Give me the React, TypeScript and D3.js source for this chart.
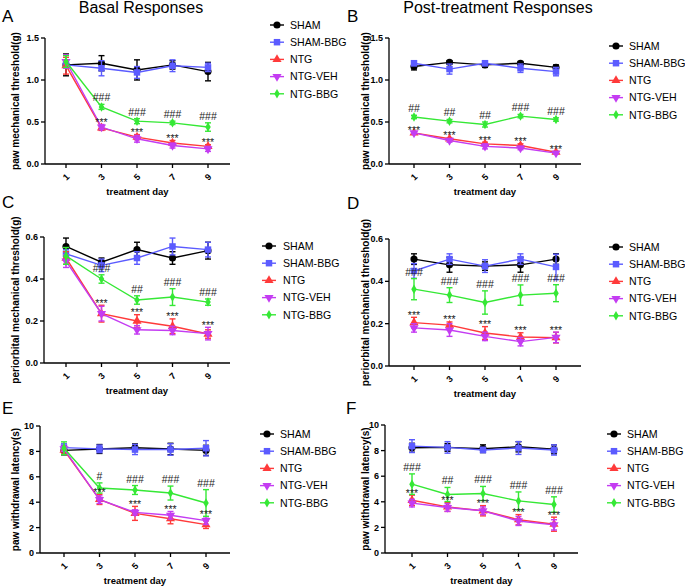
import React from 'react';
import * as d3 from 'd3';

const days = [1, 3, 5, 7, 9];
const groups = ['SHAM', 'SHAM-BBG', 'NTG', 'NTG-VEH', 'NTG-BBG'];
const colors = ['#000000', '#5b5bff', '#ff3a3a', '#c43cf2', '#35e835'];

// Panel A – Basal, paw mechanical threshold (g)
const aMeans = [
  [1.18, 1.20, 1.12, 1.18, 1.10],
  [1.18, 1.14, 1.09, 1.17, 1.15],
  [1.17, 0.43, 0.32, 0.25, 0.21],
  [1.22, 0.44, 0.30, 0.22, 0.18],
  [1.22, 0.68, 0.51, 0.49, 0.44],
];
const aErrs = [
  [0.13, 0.09, 0.12, 0.05, 0.11],
  [0.03, 0.09, 0.07, 0.07, 0.05],
  [0.10, 0.03, 0.03, 0.03, 0.02],
  [0.08, 0.03, 0.04, 0.03, 0.03],
  [0.07, 0.03, 0.03, 0.02, 0.05],
];
// Panel B – Post-treatment, paw mechanical threshold (g)
const bMeans = [
  [1.16, 1.21, 1.18, 1.20, 1.15],
  [1.20, 1.13, 1.20, 1.14, 1.10],
  [0.37, 0.30, 0.24, 0.22, 0.14],
  [0.37, 0.28, 0.21, 0.19, 0.13],
  [0.56, 0.51, 0.47, 0.57, 0.53],
];
const bErrs = [
  [0.04, 0.02, 0.03, 0.02, 0.03],
  [0.03, 0.06, 0.03, 0.05, 0.05],
  [0.01, 0.01, 0.02, 0.02, 0.01],
  [0.01, 0.02, 0.03, 0.02, 0.01],
  [0.02, 0.02, 0.03, 0.02, 0.02],
];
// Panel C – Basal, periorbital mechanical threshold (g)
const cMeans = [
  [0.555, 0.48, 0.54, 0.50, 0.535],
  [0.52, 0.465, 0.50, 0.555, 0.54],
  [0.50, 0.235, 0.20, 0.175, 0.138],
  [0.485, 0.235, 0.158, 0.155, 0.14],
  [0.51, 0.40, 0.30, 0.314, 0.29],
];
const cErrs = [
  [0.04, 0.02, 0.035, 0.03, 0.04],
  [0.02, 0.03, 0.03, 0.04, 0.035],
  [0.03, 0.04, 0.03, 0.035, 0.02],
  [0.03, 0.035, 0.02, 0.02, 0.03],
  [0.04, 0.02, 0.02, 0.04, 0.015],
];
// Panel D – Post-treatment, periorbital mechanical threshold (g)
const dMeans = [
  [0.505, 0.478, 0.472, 0.478, 0.505],
  [0.449, 0.505, 0.472, 0.505, 0.468],
  [0.205, 0.193, 0.156, 0.137, 0.134],
  [0.18, 0.17, 0.14, 0.115, 0.135],
  [0.363, 0.335, 0.30, 0.335, 0.344],
];
const dErrs = [
  [0.025, 0.035, 0.02, 0.035, 0.025],
  [0.035, 0.025, 0.03, 0.025, 0.06],
  [0.025, 0.015, 0.03, 0.02, 0.025],
  [0.02, 0.03, 0.02, 0.02, 0.025],
  [0.05, 0.035, 0.055, 0.048, 0.04],
];
// Panel E – Basal, paw withdrawal latency (s)
const eMeans = [
  [8.08, 8.19, 8.29, 8.19, 8.08],
  [8.3, 8.2, 8.15, 8.15, 8.25],
  [8.1, 4.22, 3.12, 2.7, 2.23],
  [8.2, 4.2, 3.2, 2.97, 2.55],
  [8.25, 5.12, 4.96, 4.72, 3.94],
];
const eErrs = [
  [0.35, 0.35, 0.3, 0.45, 0.4],
  [0.3, 0.3, 0.4, 0.45, 0.6],
  [0.3, 0.4, 0.55, 0.4, 0.3],
  [0.2, 0.3, 0.2, 0.3, 0.3],
  [0.5, 0.4, 0.35, 0.55, 1.05],
];
// Panel F – Post-treatment, paw withdrawal latency (s)
const fMeans = [
  [8.22, 8.25, 8.15, 8.3, 8.1],
  [8.35, 8.25, 8.05, 8.2, 8.05],
  [4.12, 3.6, 3.3, 2.6, 2.25],
  [3.9, 3.55, 3.3, 2.5, 2.2],
  [5.38, 4.57, 4.65, 4.07, 3.79],
];
const fErrs = [
  [0.35, 0.3, 0.3, 0.4, 0.35],
  [0.5, 0.45, 0.2, 0.5, 0.4],
  [0.4, 0.35, 0.4, 0.4, 0.55],
  [0.3, 0.3, 0.3, 0.35, 0.4],
  [0.8, 0.55, 0.55, 0.7, 0.6],
];

const aHash = ['', '###', '###', '###', '###'];
const bHash = ['##', '##', '##', '###', '###'];
const cHash = ['', '###', '##', '###', '###'];
const dHash = ['###', '###', '###', '###', '###'];
const eHash = ['', '#', '###', '###', '###'];
const fHash = ['###', '##', '###', '###', '###'];
const aStar = ['', '***', '***', '***', '***'];
const bStar = ['***', '***', '***', '***', '***'];
const cStar = ['', '***', '***', '***', '***'];
const dStar = ['***', '***', '***', '***', '***'];
const eStar = ['', '***', '***', '***', '***'];
const fStar = ['***', '***', '***', '***', '***'];

const ticksMech = [0, 0.5, 1.0, 1.5];
const ticksPeri = [0, 0.2, 0.4, 0.6];
const ticksLat = [0, 2, 4, 6, 8, 10];

const FONT = 'Liberation Sans, Arial, Helvetica, sans-serif';

const panels = [
  { letter: 'A', means: aMeans, errs: aErrs, hash: aHash, star: aStar, ticks: ticksMech, fmt: '.1f',
    ylabel: 'paw mechanical threshold(g)', ax: 45, top: 38, bottom: 164, x1: 66, x9: 208, xEnd: 230,
    legX: 270, legTextX: 290, legY: 25, letterX: 2, letterY: 22, ylabX: 19 },
  { letter: 'B', means: bMeans, errs: bErrs, hash: bHash, star: bStar, ticks: ticksMech, fmt: '.1f',
    ylabel: 'paw mechanical threshold(g)', ax: 389, top: 38, bottom: 164, x1: 414, x9: 556, xEnd: 581,
    legX: 609, legTextX: 629, legY: 46, letterX: 347, letterY: 22, ylabX: 369 },
  { letter: 'C', means: cMeans, errs: cErrs, hash: cHash, star: cStar, ticks: ticksPeri, fmt: '.1f',
    ylabel: 'periorbital mechanical threshold(g)', ax: 44, top: 237, bottom: 363, x1: 66, x9: 208, xEnd: 230,
    legX: 262, legTextX: 283, legY: 246, letterX: 2, letterY: 208, ylabX: 19 },
  { letter: 'D', means: dMeans, errs: dErrs, hash: dHash, star: dStar, ticks: ticksPeri, fmt: '.1f',
    ylabel: 'periorbital mechanical threshold(g)', ax: 389, top: 239, bottom: 366, x1: 414, x9: 556, xEnd: 581,
    legX: 609, legTextX: 629, legY: 247, letterX: 347, letterY: 209, ylabX: 369 },
  { letter: 'E', means: eMeans, errs: eErrs, hash: eHash, star: eStar, ticks: ticksLat, fmt: 'd',
    ylabel: 'paw withdrawal latency(s)', ax: 40, top: 426, bottom: 553, x1: 64, x9: 206, xEnd: 230,
    legX: 260, legTextX: 280, legY: 434, letterX: 2, letterY: 414, ylabX: 19 },
  { letter: 'F', means: fMeans, errs: fErrs, hash: fHash, star: fStar, ticks: ticksLat, fmt: 'd',
    ylabel: 'paw withdrawal latency(s)', ax: 385, top: 425, bottom: 553, x1: 412, x9: 554, xEnd: 578,
    legX: 607, legTextX: 627, legY: 434, letterX: 346, letterY: 414, ylabX: 369 },
];

const symbolTypes = [d3.symbolCircle, d3.symbolSquare, d3.symbolTriangle, d3.symbolTriangle, d3.symbolDiamond];
const symbolSizes = [40, 42, 36, 36, 26];
const symbolRot = [0, 0, 0, 180, 0];

function Marker({ i, x, y }: { i: number; x: number; y: number }) {
  const p = d3.symbol().type(symbolTypes[i]).size(symbolSizes[i])() as string;
  return (
    <path d={p} fill={colors[i]} transform={`translate(${x},${y}) rotate(${symbolRot[i]})`} />
  );
}

function Panel({ cfg }: { cfg: any }) {
  const yMax = cfg.ticks[cfg.ticks.length - 1];
  const y = d3.scaleLinear().domain([0, yMax]).range([cfg.bottom, cfg.top]);
  const x = d3.scaleLinear().domain([1, 9]).range([cfg.x1, cfg.x9]);
  const fmt = d3.format(cfg.fmt);
  const line = d3.line<number>().x((_, j) => x(days[j])).y((v) => y(v));
  const cap = 3;
  const mid = (cfg.top + cfg.bottom) / 2;
  return (
    <g>
      <text x={cfg.letterX} y={cfg.letterY} fontSize={17} fontFamily={FONT}>{cfg.letter}</text>
      {/* axes */}
      <line x1={cfg.ax} x2={cfg.ax} y1={cfg.top} y2={cfg.bottom} stroke="#000" strokeWidth={1.3} />
      <line x1={cfg.ax} x2={cfg.xEnd} y1={cfg.bottom} y2={cfg.bottom} stroke="#000" strokeWidth={1.3} />
      {cfg.ticks.map((t: number) => (
        <g key={t}>
          <line x1={cfg.ax - 4} x2={cfg.ax} y1={y(t)} y2={y(t)} stroke="#000" strokeWidth={1.3} />
          <text x={cfg.ax - 6} y={y(t)} dy="0.35em" textAnchor="end" fontSize={9} fontWeight="bold" fontFamily={FONT}>{fmt(t)}</text>
        </g>
      ))}
      {days.map((d) => (
        <g key={d}>
          <line x1={x(d)} x2={x(d)} y1={cfg.bottom} y2={cfg.bottom + 4} stroke="#000" strokeWidth={1.3} />
          <text transform={`translate(${x(d)},${cfg.bottom + 13}) rotate(-45)`} textAnchor="middle" dy="0.35em"
            fontSize={9} fontWeight="bold" fontFamily={FONT}>{d}</text>
        </g>
      ))}
      <text x={(cfg.ax + cfg.xEnd) / 2} y={cfg.bottom + 31} textAnchor="middle" fontSize={9.5} fontWeight="bold" fontFamily={FONT}>treatment day</text>
      <text transform={`translate(${cfg.ylabX},${mid}) rotate(-90)`} textAnchor="middle" fontSize={10} fontWeight="bold" fontFamily={FONT}>{cfg.ylabel}</text>
      {/* series */}
      {groups.map((g, i) => (
        <g key={g}>
          <path d={line(cfg.means[i]) as string} fill="none" stroke={colors[i]} strokeWidth={1.4} />
          {cfg.means[i].map((m: number, j: number) => {
            const e = cfg.errs[i][j];
            const xx = x(days[j]);
            return (
              <g key={j} stroke={colors[i]} strokeWidth={1.4}>
                <line x1={xx} x2={xx} y1={y(m - e)} y2={y(m + e)} />
                <line x1={xx - cap} x2={xx + cap} y1={y(m - e)} y2={y(m - e)} />
                <line x1={xx - cap} x2={xx + cap} y1={y(m + e)} y2={y(m + e)} />
              </g>
            );
          })}
          {cfg.means[i].map((m: number, j: number) => (
            <Marker key={'m' + j} i={i} x={x(days[j])} y={y(m)} />
          ))}
        </g>
      ))}
      {/* significance annotations */}
      {days.map((d, j) => {
        const hTop = y(cfg.means[4][j] + cfg.errs[4][j]);
        const sTop = Math.min(y(cfg.means[2][j] + cfg.errs[2][j]), y(cfg.means[3][j] + cfg.errs[3][j]));
        return (
          <g key={'ann' + d} fontFamily={FONT} fill="#222" textAnchor="middle">
            {cfg.hash[j] && <text x={x(d)} y={hTop - 3} fontSize={10.5}>{cfg.hash[j]}</text>}
            {cfg.star[j] && <text x={x(d)} y={sTop + 1.5} fontSize={10.5}>{cfg.star[j]}</text>}
          </g>
        );
      })}
      {/* legend */}
      {groups.map((g, i) => {
        const ly = cfg.legY + i * 17.2;
        return (
          <g key={'leg' + g}>
            <line x1={cfg.legX} x2={cfg.legX + 14} y1={ly} y2={ly} stroke={colors[i]} strokeWidth={1.4} />
            <Marker i={i} x={cfg.legX + 7} y={ly} />
            <text x={cfg.legTextX} y={ly} dy="0.35em" fontSize={10.6} fontFamily={FONT}>{g}</text>
          </g>
        );
      })}
    </g>
  );
}

export default function App() {
  return (
    <svg width={685} height={586} style={{ position: 'absolute', left: 0, top: 0, background: '#fff' }}>
      <rect width={685} height={586} fill="#fff" />
      <text x={141} y={13} textAnchor="middle" fontSize={16} fontFamily={FONT}>Basal Responses</text>
      <text x={498} y={13} textAnchor="middle" fontSize={16} fontFamily={FONT}>Post-treatment Responses</text>
      {panels.map((p) => <Panel key={p.letter} cfg={p} />)}
    </svg>
  );
}
